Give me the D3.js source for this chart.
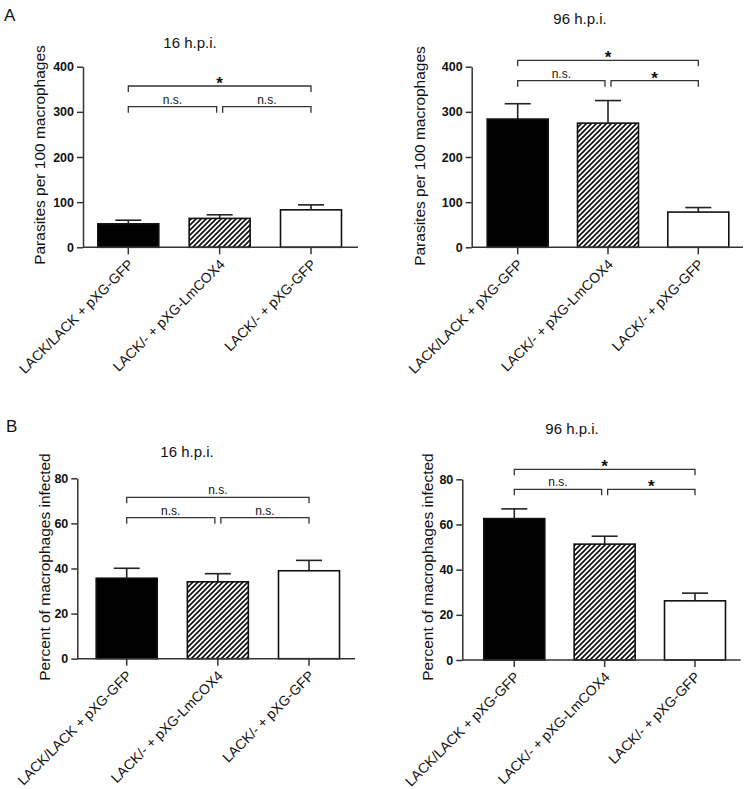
<!DOCTYPE html>
<html>
<head>
<meta charset="utf-8">
<script src="https://cdn.jsdelivr.net/npm/d3@7"></script>
<style>
  html, body { margin: 0; padding: 0; background: #fff; }
  svg { display: block; font-family: "Liberation Sans", Arial, sans-serif; }
</style>
</head>
<body>
<svg id="chart" width="750" height="789"></svg>
<script>
// ---------------- DATA ----------------
const categories = ["LACK/LACK + pXG-GFP", "LACK/- + pXG-LmCOX4", "LACK/- + pXG-GFP"];
const fills = ["solid", "hatch", "open"];

const parasites16 = [52, 64, 83];
const parasites16Sem = [8, 8, 11];
const parasites96 = [284, 275, 78];
const parasites96Sem = [34, 50, 10];

const percent16 = [35.7, 34.1, 39.0];
const percent16Sem = [4.4, 3.6, 4.6];
const percent96 = [62.6, 51.3, 26.2];
const percent96Sem = [4.3, 3.5, 3.4];

const parasiteTicks = [0, 100, 200, 300, 400];
const percentTicks = [0, 20, 40, 60, 80];

// brackets: [from index, to index, label, level (0 = lower, 1 = upper)]
const sigA16 = [[0, 1, "n.s.", 0], [1, 2, "n.s.", 0], [0, 2, "*", 1]];
const sigA96 = [[0, 1, "n.s.", 0], [1, 2, "*", 0], [0, 2, "*", 1]];
const sigB16 = [[0, 1, "n.s.", 0], [1, 2, "n.s.", 0], [0, 2, "n.s.", 1]];
const sigB96 = [[0, 1, "n.s.", 0], [1, 2, "*", 0], [0, 2, "*", 1]];

// ---------------- DRAW ----------------
const svg = d3.select("#chart");
const defs = svg.append("defs");
const pat = defs.append("pattern")
  .attr("id", "hatch").attr("patternUnits", "userSpaceOnUse")
  .attr("width", 5).attr("height", 5);
pat.append("rect").attr("width", 5).attr("height", 5).attr("fill", "#fff");
pat.append("path").attr("d", "M-1,1 l2,-2 M0,5 l5,-5 M4,6 l2,-2")
  .attr("stroke", "#111").attr("stroke-width", 1.7);

const axisColor = "#333";

function drawPanel(p) {
  const g = svg.append("g");
  const y = d3.scaleLinear().domain([0, p.ymax]).range([p.y0, p.y1]);
  const x = d3.scalePoint().domain(categories).range([p.cx0, p.cx1]);
  const barW = 61;

  // bars
  const bars = g.selectAll("g.bar").data(categories).enter().append("g");
  bars.append("rect")
    .attr("x", d => x(d) - barW / 2)
    .attr("y", (d, i) => y(p.values[i]))
    .attr("width", barW)
    .attr("height", (d, i) => y(0) - y(p.values[i]))
    .attr("fill", (d, i) => fills[i] === "solid" ? "#000" : fills[i] === "hatch" ? "url(#hatch)" : "#fff")
    .attr("stroke", "#111").attr("stroke-width", 1.6);
  // error bars (upper only)
  bars.append("line")
    .attr("x1", d => x(d)).attr("x2", d => x(d))
    .attr("y1", (d, i) => y(p.values[i]))
    .attr("y2", (d, i) => y(p.values[i] + p.sem[i]))
    .attr("stroke", "#222").attr("stroke-width", 1.6);
  bars.append("line")
    .attr("x1", d => x(d) - 13).attr("x2", d => x(d) + 13)
    .attr("y1", (d, i) => y(p.values[i] + p.sem[i]))
    .attr("y2", (d, i) => y(p.values[i] + p.sem[i]))
    .attr("stroke", "#222").attr("stroke-width", 1.6);

  // y axis
  const ya = g.append("g").attr("transform", `translate(${p.ax},0)`)
    .call(d3.axisLeft(y).tickValues(p.ticks).tickSize(6).tickSizeOuter(0).tickPadding(3));
  ya.select(".domain").attr("stroke", axisColor).attr("stroke-width", 1.5);
  ya.selectAll(".tick line").attr("stroke", axisColor).attr("stroke-width", 1.5);
  ya.selectAll(".tick text").attr("fill", "#111").style("font-size", "12.5px").style("font-weight", "bold")
    .style("font-family", "'Liberation Sans', Arial, sans-serif");

  // x axis line
  g.append("line").attr("x1", p.ax).attr("x2", p.axEnd)
    .attr("y1", y(0)).attr("y2", y(0))
    .attr("stroke", axisColor).attr("stroke-width", 1.5);
  g.selectAll("line.xt").data(categories).enter().append("line")
    .attr("x1", d => x(d)).attr("x2", d => x(d))
    .attr("y1", y(0)).attr("y2", y(0) + 7)
    .attr("stroke", axisColor).attr("stroke-width", 1.5);
  g.selectAll("text.xl").data(categories).enter().append("text")
    .attr("transform", d => `translate(${x(d) + 6},${y(0) + 18}) rotate(-45)`)
    .attr("text-anchor", "end")
    .style("font-size", "14px").attr("fill", "#111")
    .text(d => d);

  // y label
  g.append("text")
    .attr("transform", `translate(${p.ylx},${p.yly}) rotate(-90)`)
    .attr("text-anchor", "middle").attr("dy", "0.35em")
    .style("font-size", "15.5px").attr("fill", "#111")
    .text(p.ylabel);

  // title
  g.append("text").attr("x", p.tx).attr("y", p.ty)
    .attr("text-anchor", "middle").style("font-size", "15px").attr("fill", "#111")
    .text(p.title);

  // significance brackets
  p.sig.forEach(s => {
    const [i, j, lab, lvl] = s;
    const by = lvl === 1 ? p.bTop : p.bLow;
    const leg = 6;
    const xa = x(categories[i]) + (lvl === 0 && i === 1 ? 3 : 0);
    const xb = x(categories[j]) - (lvl === 0 && j === 1 ? 3 : 0);
    g.append("path")
      .attr("d", `M${xa},${by + leg} V${by} H${xb} V${by + leg}`)
      .attr("fill", "none").attr("stroke", "#333").attr("stroke-width", 1.3);
    const t = g.append("text").attr("x", (xa + xb) / 2).attr("text-anchor", "middle").attr("fill", "#111").text(lab);
    if (lab === "*") t.attr("y", by + 3).style("font-size", "17px").style("font-weight", "bold");
    else t.attr("y", by - 3).style("font-size", "12px");
  });
}

drawPanel({ values: parasites16, sem: parasites16Sem, ymax: 400, ticks: parasiteTicks,
  y0: 247.3, y1: 66.7, cx0: 128.3, cx1: 311, ax: 83, axEnd: 358,
  ylabel: "Parasites per 100 macrophages", ylx: 40, yly: 155,
  title: "16 h.p.i.", tx: 190, ty: 48, sig: sigA16, bTop: 86, bLow: 106.7 });

drawPanel({ values: parasites96, sem: parasites96Sem, ymax: 400, ticks: parasiteTicks,
  y0: 247.3, y1: 66.7, cx0: 517.7, cx1: 698.3, ax: 471.7, axEnd: 743,
  ylabel: "Parasites per 100 macrophages", ylx: 420, yly: 156,
  title: "96 h.p.i.", tx: 580, ty: 24, sig: sigA96, bTop: 60.3, bLow: 80.7 });

drawPanel({ values: percent16, sem: percent16Sem, ymax: 80, ticks: percentTicks,
  y0: 658.7, y1: 478.3, cx0: 126.7, cx1: 309, ax: 77.3, axEnd: 355,
  ylabel: "Percent of macrophages infected", ylx: 45, yly: 567,
  title: "16 h.p.i.", tx: 187, ty: 456.5, sig: sigB16, bTop: 497.3, bLow: 517.7 });

drawPanel({ values: percent96, sem: percent96Sem, ymax: 80, ticks: percentTicks,
  y0: 660, y1: 479.3, cx0: 514.3, cx1: 695, ax: 462.3, axEnd: 740.7,
  ylabel: "Percent of macrophages infected", ylx: 428, yly: 567,
  title: "96 h.p.i.", tx: 572, ty: 434, sig: sigB96, bTop: 469.3, bLow: 489.3 });

svg.append("text").attr("x", 4).attr("y", 21).style("font-size", "17px").attr("fill", "#111").text("A");
svg.append("text").attr("x", 6).attr("y", 432).style("font-size", "17px").attr("fill", "#111").text("B");
</script>
</body>
</html>
